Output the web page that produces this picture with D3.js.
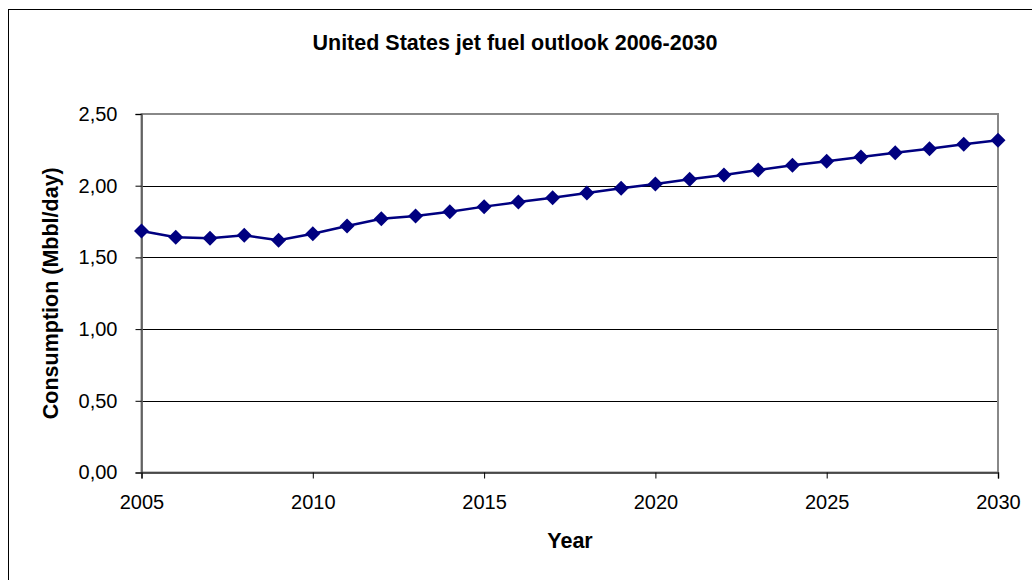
<!DOCTYPE html>
<html>
<head>
<meta charset="utf-8">
<script src="https://cdn.jsdelivr.net/npm/d3@7"></script>
<style>
  html, body { margin: 0; padding: 0; background: #fff; }
  svg { display: block; }
  text { font-family: Arial, "Liberation Sans", sans-serif; fill: #000; }
</style>
</head>
<body>
<svg id="chart" width="1032" height="580"></svg>
<script>
// Jet fuel consumption outlook, million barrels per day
const years = [2005, 2006, 2007, 2008, 2009, 2010, 2011, 2012, 2013, 2014, 2015, 2016, 2017,
               2018, 2019, 2020, 2021, 2022, 2023, 2024, 2025, 2026, 2027, 2028, 2029, 2030];
const consumption = [1.684, 1.640, 1.633, 1.654, 1.619, 1.665, 1.719, 1.770, 1.789, 1.819,
                     1.854, 1.886, 1.916, 1.949, 1.982, 2.012, 2.045, 2.075, 2.110, 2.142,
                     2.170, 2.200, 2.230, 2.258, 2.289, 2.317];
const xTicks = [2005, 2010, 2015, 2020, 2025, 2030];
const yTicks = [0, 0.5, 1.0, 1.5, 2.0, 2.5];

const titleText = "United States jet fuel outlook 2006-2030";
const xTitle = "Year";
const yTitle = "Consumption (Mbbl/day)";

const svg = d3.select("#chart");
const W = 1032, H = 580;
const FONT = "Arial, 'Liberation Sans', sans-serif";

// chart frame
svg.append("rect")
  .attr("x", 8.5).attr("y", 9.5)
  .attr("width", W + 10).attr("height", H + 10)
  .attr("fill", "#fff").attr("stroke", "#000").attr("stroke-width", 1);

const plot = { left: 141.5, right: 998, top: 114, bottom: 472.5 };

const x = d3.scaleLinear().domain([2005, 2030]).range([plot.left, plot.right]);
const y = d3.scaleLinear().domain([0, 2.5]).range([plot.bottom, plot.top]);

const fmt = v => d3.format(".2f")(v).replace(".", ",");

// gridlines
svg.append("g")
  .selectAll("line")
  .data(yTicks.filter(v => v > 0 && v < 2.5))
  .join("line")
  .attr("x1", plot.left).attr("x2", plot.right)
  .attr("y1", d => Math.round(y(d)) + 0.5).attr("y2", d => Math.round(y(d)) + 0.5)
  .attr("stroke", "#000").attr("stroke-width", 1);

// plot area border
svg.append("rect")
  .attr("x", plot.left).attr("y", plot.top)
  .attr("width", plot.right - plot.left).attr("height", plot.bottom - plot.top)
  .attr("fill", "none").attr("stroke", "#888").attr("stroke-width", 2);

// y axis
const yAxis = svg.append("g")
  .attr("transform", `translate(${plot.left},0)`)
  .call(d3.axisLeft(y).tickValues(yTicks).tickFormat(fmt).tickSize(6).tickPadding(18));
yAxis.select(".domain").attr("stroke", "#555").attr("stroke-width", 1.5);
yAxis.selectAll(".tick line").attr("stroke", "#000");
yAxis.selectAll(".tick text")
  .attr("font-size", 20).attr("font-family", FONT);

// x axis
const xAxis = svg.append("g")
  .attr("transform", `translate(0,${plot.bottom})`)
  .call(d3.axisBottom(x).tickValues(xTicks).tickFormat(d3.format("d")).tickSize(6).tickPadding(16));
xAxis.select(".domain").attr("stroke", "#333").attr("stroke-width", 1.5);
xAxis.selectAll(".tick line").attr("stroke", "#000");
xAxis.selectAll(".tick text")
  .attr("font-size", 20).attr("font-family", FONT);

// series line
const pts = years.map((yr, i) => [yr, consumption[i]]);
svg.append("path")
  .datum(pts)
  .attr("fill", "none")
  .attr("stroke", "#000080")
  .attr("stroke-width", 2.5)
  .attr("d", d3.line().x(d => x(d[0])).y(d => y(d[1])));

// diamond markers
svg.append("g")
  .selectAll("path")
  .data(pts)
  .join("path")
  .attr("transform", d => `translate(${x(d[0])},${y(d[1])})`)
  .attr("d", "M0,-7.5L7.5,0L0,7.5L-7.5,0Z")
  .attr("fill", "#000080");

// titles
svg.append("text")
  .attr("x", 515).attr("y", 50)
  .attr("text-anchor", "middle")
  .attr("font-size", 21.5).attr("font-weight", "bold")
  .text(titleText);

svg.append("text")
  .attr("x", 570).attr("y", 548)
  .attr("text-anchor", "middle")
  .attr("font-size", 21.5).attr("font-weight", "bold")
  .text(xTitle);

svg.append("text")
  .attr("transform", `translate(58,${(plot.top + plot.bottom) / 2}) rotate(-90)`)
  .attr("text-anchor", "middle")
  .attr("font-size", 21.5).attr("font-weight", "bold")
  .text(yTitle);
</script>
</body>
</html>
